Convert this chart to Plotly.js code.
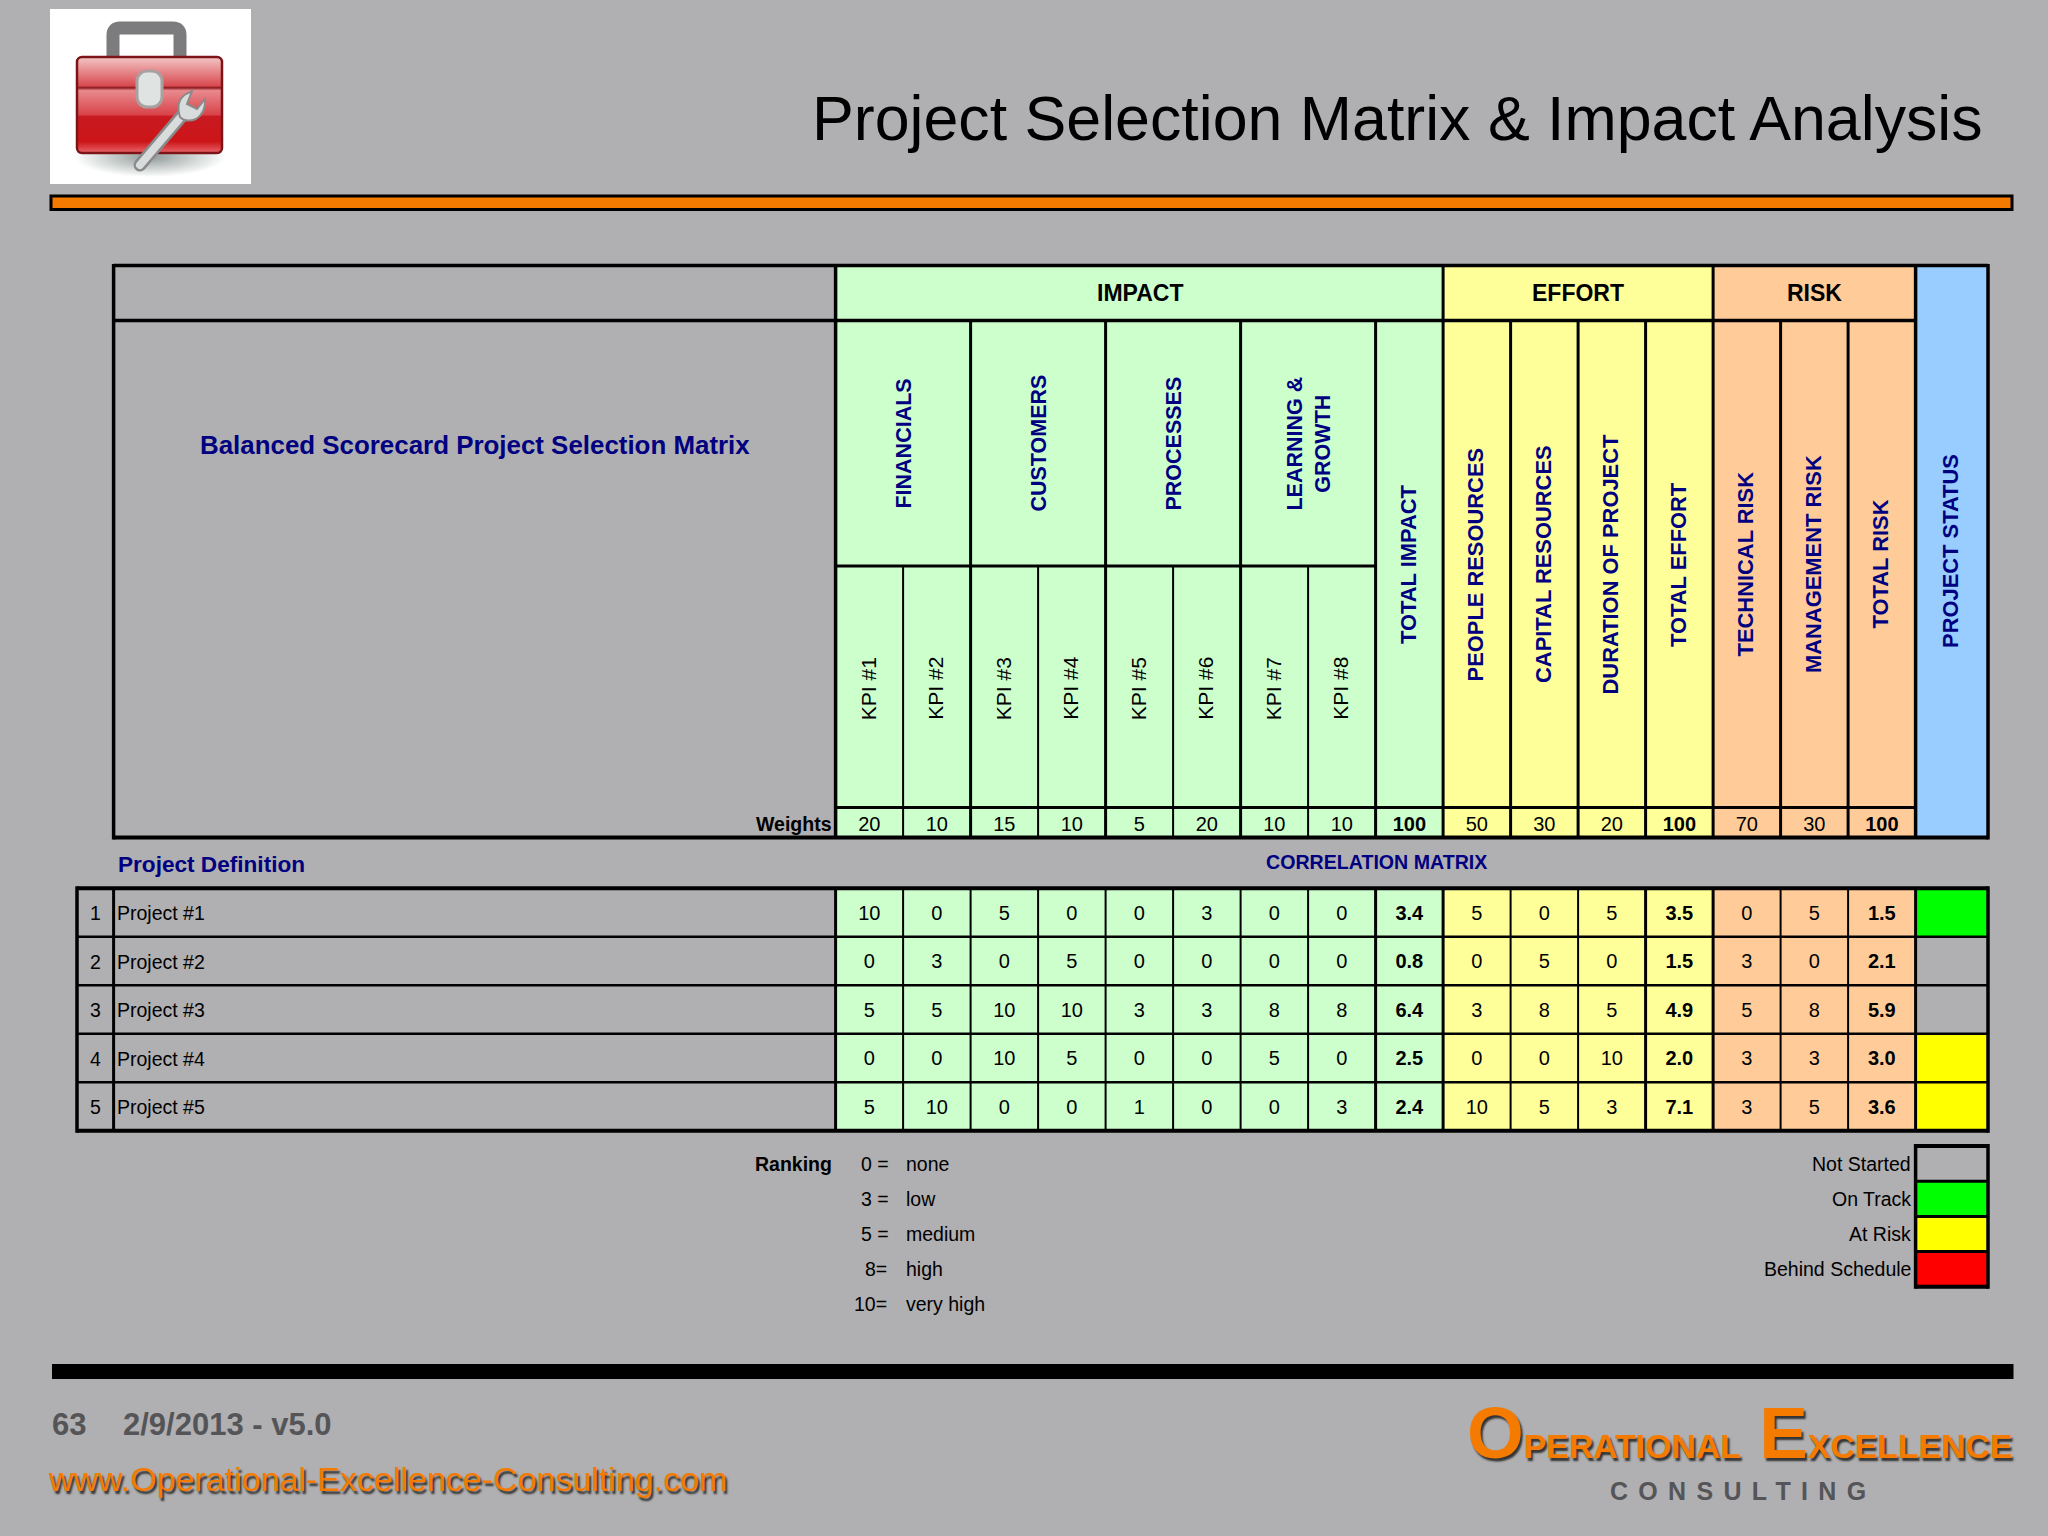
<!DOCTYPE html>
<html><head><meta charset="utf-8">
<script src="https://cdn.plot.ly/plotly-3.0.1.min.js"></script>
<style>html,body{margin:0;padding:0;background:#b0afb1}#c{width:2048px;height:1536px}</style>
</head><body><div id="c"></div>
<script>
// ---------- data ----------
const groupHeads = ['IMPACT','EFFORT','RISK'];
const perspectives = ['FINANCIALS','CUSTOMERS','PROCESSES','LEARNING &<br>GROWTH'];
const kpis = ['KPI #1','KPI #2','KPI #3','KPI #4','KPI #5','KPI #6','KPI #7','KPI #8'];
const tallHeads = ['TOTAL IMPACT','PEOPLE RESOURCES','CAPITAL RESOURCES','DURATION OF PROJECT','TOTAL EFFORT','TECHNICAL RISK','MANAGEMENT RISK','TOTAL RISK','PROJECT STATUS'];
const weights = ['20','10','15','10','5','20','10','10','100','50','30','20','100','70','30','100'];
const projects = ['Project #1','Project #2','Project #3','Project #4','Project #5'];
const project1 = ['10','0','5','0','0','3','0','0','3.4','5','0','5','3.5','0','5','1.5'];
const project2 = ['0','3','0','5','0','0','0','0','0.8','0','5','0','1.5','3','0','2.1'];
const project3 = ['5','5','10','10','3','3','8','8','6.4','3','8','5','4.9','5','8','5.9'];
const project4 = ['0','0','10','5','0','0','5','0','2.5','0','0','10','2.0','3','3','3.0'];
const project5 = ['5','10','0','0','1','0','0','3','2.4','10','5','3','7.1','3','5','3.6'];
const projectStatus = ['On Track','Not Started','Not Started','At Risk','At Risk'];
const statusNames = ['Not Started','On Track','At Risk','Behind Schedule'];
const rankingKeys = ['0 =','3 =','5 =','8=','10='];
const rankingNames = ['none','low','medium','high','very high'];

// ---------- styles / geometry ----------
const BG='#b0afb1', GREEN='#ccffcc', YEL='#ffff99', PEACH='#ffcc99', BLUE='#99ccff', NAVY='#000080', ORANGE='#f47b00', DARK='#555558';
const statusColor={'Not Started':BG,'On Track':'#00ff00','At Risk':'#ffff00','Behind Schedule':'#ff0000'};
const FONT='"Liberation Sans", Arial, sans-serif';
const X0=835.6, CW=67.5, XL=113.6, XI=77, XR=1988;
const colX=i=>X0+i*CW, XS=colX(16);
const Y=[265.5,320.5,566,807.5,837.5];
const MY0=888.3, RH=48.5;
const bold=new Set([8,12,15]);
const colFill=i=>i<=8?GREEN:i<=12?YEL:PEACH;
const ROTDX=-1.4;

const shapes=[], ann=[];
const rect=(x0,y0,x1,y1,c)=>shapes.push({type:'rect',layer:'below',xref:'x',yref:'y',x0,y0,x1,y1,fillcolor:c,line:{width:0}});
const ln=(x0,y0,x1,y1,w)=>shapes.push({type:'line',layer:'below',xref:'x',yref:'y',x0,y0,x1,y1,line:{color:'#000',width:w}});
const txt=(text,x,y,size,o={})=>ann.push(Object.assign({text,x,y,xref:'x',yref:'y',showarrow:false,borderpad:0,borderwidth:0,
  xanchor:o.xa||'center',yanchor:o.ya||'middle',textangle:o.rot||0,align:o.align||'center',
  font:Object.assign({family:FONT,size,color:o.color||'#000',weight:o.bold?700:400},o.shadow?{shadow:o.shadow}:{})},{}));

// top rule & footer rule
shapes.push({type:'rect',layer:'below',xref:'x',yref:'y',x0:51,y0:196,x1:2012,y1:209.5,fillcolor:ORANGE,line:{color:'#000',width:3}});
rect(52,1364,2013.5,1379,'#000');

// header fills
rect(colX(0),Y[0],colX(9),Y[4],GREEN);
rect(colX(9),Y[0],colX(13),Y[4],YEL);
rect(colX(13),Y[0],colX(16),Y[4],PEACH);
rect(colX(16),Y[0],XR,Y[4],BLUE);
// matrix fills
for(let i=0;i<16;i++) rect(colX(i),MY0,colX(i+1),MY0+5*RH,colFill(i));
projectStatus.forEach((s,r)=>rect(XS,MY0+r*RH,XR,MY0+(r+1)*RH,statusColor[s]));

// header grid
ln(XL,Y[0],XR,Y[0],3.5); ln(XL,Y[1],XS,Y[1],3.5); ln(XL,Y[4],XR,Y[4],4);
ln(XL,Y[0]-1.5,XL,Y[4]+2,3.5); ln(XR,Y[0]-1.5,XR,Y[4]+2,3.5);
ln(colX(0),Y[2],colX(8),Y[2],3); ln(colX(0),Y[3],XS,Y[3],3);
ln(colX(0),Y[0],colX(0),Y[4],3.5); ln(XS,Y[0],XS,Y[4],3.5);
[9,13].forEach(i=>ln(colX(i),Y[0],colX(i),Y[4],3));
[2,4,6,8,10,11,12,14,15].forEach(i=>ln(colX(i),Y[1],colX(i),Y[4],3));
[1,3,5,7].forEach(i=>ln(colX(i),Y[2],colX(i),Y[4],2));
// matrix grid
const MYB=MY0+5*RH;
ln(XI,MY0,XR,MY0,4); ln(XI,MYB,XR,MYB,4);
for(let r=1;r<5;r++) ln(XI,MY0+r*RH,XR,MY0+r*RH,2.5);
ln(XI,MY0-2,XI,MYB+2,3.5); ln(XL,MY0,XL,MYB,3); ln(XR,MY0-2,XR,MYB+2,3.5);
[0,8,9,12,13,16].forEach(i=>ln(colX(i),MY0,colX(i),MYB,3));
[1,2,3,4,5,6,7,10,11,14,15].forEach(i=>ln(colX(i),MY0,colX(i),MYB,2));

// headings
txt('Project Selection Matrix &amp; Impact Analysis',1982.5,118,62.7,{xa:'right'});
txt(groupHeads[0],(colX(0)+colX(9))/2+1,292.5,23,{bold:1});
txt(groupHeads[1],(colX(9)+colX(13))/2,292.5,23,{bold:1});
txt(groupHeads[2],(colX(13)+colX(16))/2,292.5,23,{bold:1});
txt('Balanced Scorecard Project Selection Matrix',475,445,25.9,{bold:1,color:NAVY});
perspectives.forEach((p,i)=>txt(p,colX(2*i+1)+1.2,(Y[1]+Y[2])/2,21.5,{rot:-90,bold:1,color:NAVY}));
kpis.forEach((k,i)=>txt(k,colX(i)+CW/2+ROTDX,(Y[2]+Y[3])/2+1.5,21,{rot:-90}));
[8,9,10,11,12,13,14,15].forEach((c,i)=>txt(tallHeads[i],colX(c)+CW/2+ROTDX,(Y[1]+Y[3])/2,21.9,{rot:-90,bold:1,color:NAVY}));
txt(tallHeads[8],(XS+XR)/2+ROTDX,(Y[0]+Y[4])/2-1,21.9,{rot:-90,bold:1,color:NAVY});
txt('Weights',832,824,19.5,{xa:'right',bold:1});
txt('Project Definition',118,864.5,22.6,{xa:'left',bold:1,color:NAVY});
txt('CORRELATION MATRIX',1376,862,19.6,{bold:1,color:NAVY});
projects.forEach((p,r)=>{
  const y=MY0+(r+.5)*RH+.5;
  txt(String(r+1),(XI+XL)/2,y,19.5);
  txt(p,117,y,19.5,{xa:'left'});
});
// ranking key
txt('Ranking',832,1163.5,19.5,{xa:'right',bold:1});
rankingKeys.forEach((k,i)=>{
  const y=1164+i*35;
  txt(k,k.includes(' ')?889:886.5,y,19.5,{xa:'right'});
  txt(rankingNames[i],906,y,19.5,{xa:'left'});
});
// status key
const LY0=1146, LH=35.2;
statusNames.forEach((s,i)=>{
  rect(XS,LY0+i*LH,XR,LY0+(i+1)*LH,statusColor[s]);
  ln(XS,LY0+i*LH,XR,LY0+i*LH,i?3:4);
  txt(s,1911,LY0+(i+.5)*LH,19.5,{xa:'right'});
});
ln(XS,LY0+4*LH,XR,LY0+4*LH,4); ln(XS,LY0-2,XS,LY0+4*LH+2,3.5); ln(XR,LY0-2,XR,LY0+4*LH+2,3.5);

// footer
const SH='2px 3px 2px #333';
txt('63',52,1424.5,31,{xa:'left',bold:1,color:DARK});
txt('2/9/2013 - v5.0',122.5,1424.5,31,{xa:'left',bold:1,color:DARK});
txt('www.Operational-Excellence-Consulting.com',48,1478.5,34,{xa:'left',color:ORANGE,shadow:SH});
txt('<span style="font-size:73px">O</span>PERATIONAL  <span style="font-size:73px">E</span>XCELLENCE',2013,1432,33.8,{xa:'right',bold:1,color:ORANGE,shadow:SH});
txt('<span style="letter-spacing:10.3px">CONSULTING</span>',1743,1491,25,{bold:1,color:DARK});

// logo (pictorial decoration, no text)
const logo=`<svg xmlns="http://www.w3.org/2000/svg" width="201" height="175" viewBox="0 0 201 175">
<defs>
<linearGradient id="a" x1="0" y1="0" x2="0" y2="1"><stop offset="0" stop-color="#f4c6c6"/><stop offset=".3" stop-color="#d84a50"/><stop offset=".32" stop-color="#8c1c20"/><stop offset=".35" stop-color="#e88a8e"/><stop offset=".6" stop-color="#d8444a"/><stop offset=".62" stop-color="#c81a20"/><stop offset=".88" stop-color="#cc1518"/><stop offset="1" stop-color="#e8666a"/></linearGradient>
<radialGradient id="s"><stop offset="0" stop-color="#8f9a98"/><stop offset="1" stop-color="#fff"/></radialGradient>
</defs>
<rect width="201" height="175" fill="#fff"/>
<ellipse cx="100" cy="148" rx="76" ry="20" fill="url(#s)"/>
<path d="M63 50V26Q63 19 70 19H123Q130 19 130 26V50" fill="none" stroke="#7c7c7e" stroke-width="13"/>
<rect x="27" y="48" width="145" height="96" rx="5" fill="url(#a)" stroke="#7c1418" stroke-width="2.5"/>
<rect x="87" y="62" width="25" height="36" rx="10" fill="#dfe4e2" stroke="#a9a0a0" stroke-width="3"/>
<path d="M90 156L136 102" stroke="#8a8a8a" stroke-width="13" stroke-linecap="round"/>
<path d="M90 156L136 102" stroke="#d9dcdc" stroke-width="8" stroke-linecap="round"/>
<path d="M130 108Q125 92 136 85L142 82L137 95L147 100L155 90Q156 104 146 110Q136 114 130 108Z" fill="#d9dcdc" stroke="#8a8a8a" stroke-width="2"/>
</svg>`;

// ---------- cell values ----------
const rows=[weights,project1,project2,project3,project4,project5];
const xsR=[],ysR=[],tR=[],xsB=[],ysB=[],tB=[];
rows.forEach((row,r)=>row.forEach((v,c)=>{
  const x=colX(c)+CW/2, y=r===0?(Y[3]+Y[4])/2+3:MY0+(r-.5)*RH+2;
  if(bold.has(c)){xsB.push(x);ysB.push(y);tB.push(v);} else {xsR.push(x);ysR.push(y);tR.push(v);}
}));
const traces=[
 {type:'scatter',mode:'text',x:xsR,y:ysR,text:tR,textposition:'middle center',textfont:{family:FONT,size:20,color:'#000'},hoverinfo:'skip',showlegend:false},
 {type:'scatter',mode:'text',x:xsB,y:ysB,text:tB,textposition:'middle center',textfont:{family:FONT,size:20,color:'#000',weight:700},hoverinfo:'skip',showlegend:false}
];
const ax=r=>({range:r,visible:false,showgrid:false,zeroline:false,fixedrange:true});
Plotly.newPlot('c',traces,{
  width:2048,height:1536,margin:{l:0,r:0,t:0,b:0,pad:0},paper_bgcolor:BG,plot_bgcolor:BG,showlegend:false,
  xaxis:ax([0,2048]),yaxis:ax([1536,0]),shapes,annotations:ann,
  images:[{source:'data:image/svg+xml;charset=utf-8,'+encodeURIComponent(logo),xref:'x',yref:'y',x:50,y:9,sizex:201,sizey:175,sizing:'stretch',xanchor:'left',yanchor:'top',layer:'above'}]
},{displayModeBar:false,staticPlot:true});
</script></body></html>
